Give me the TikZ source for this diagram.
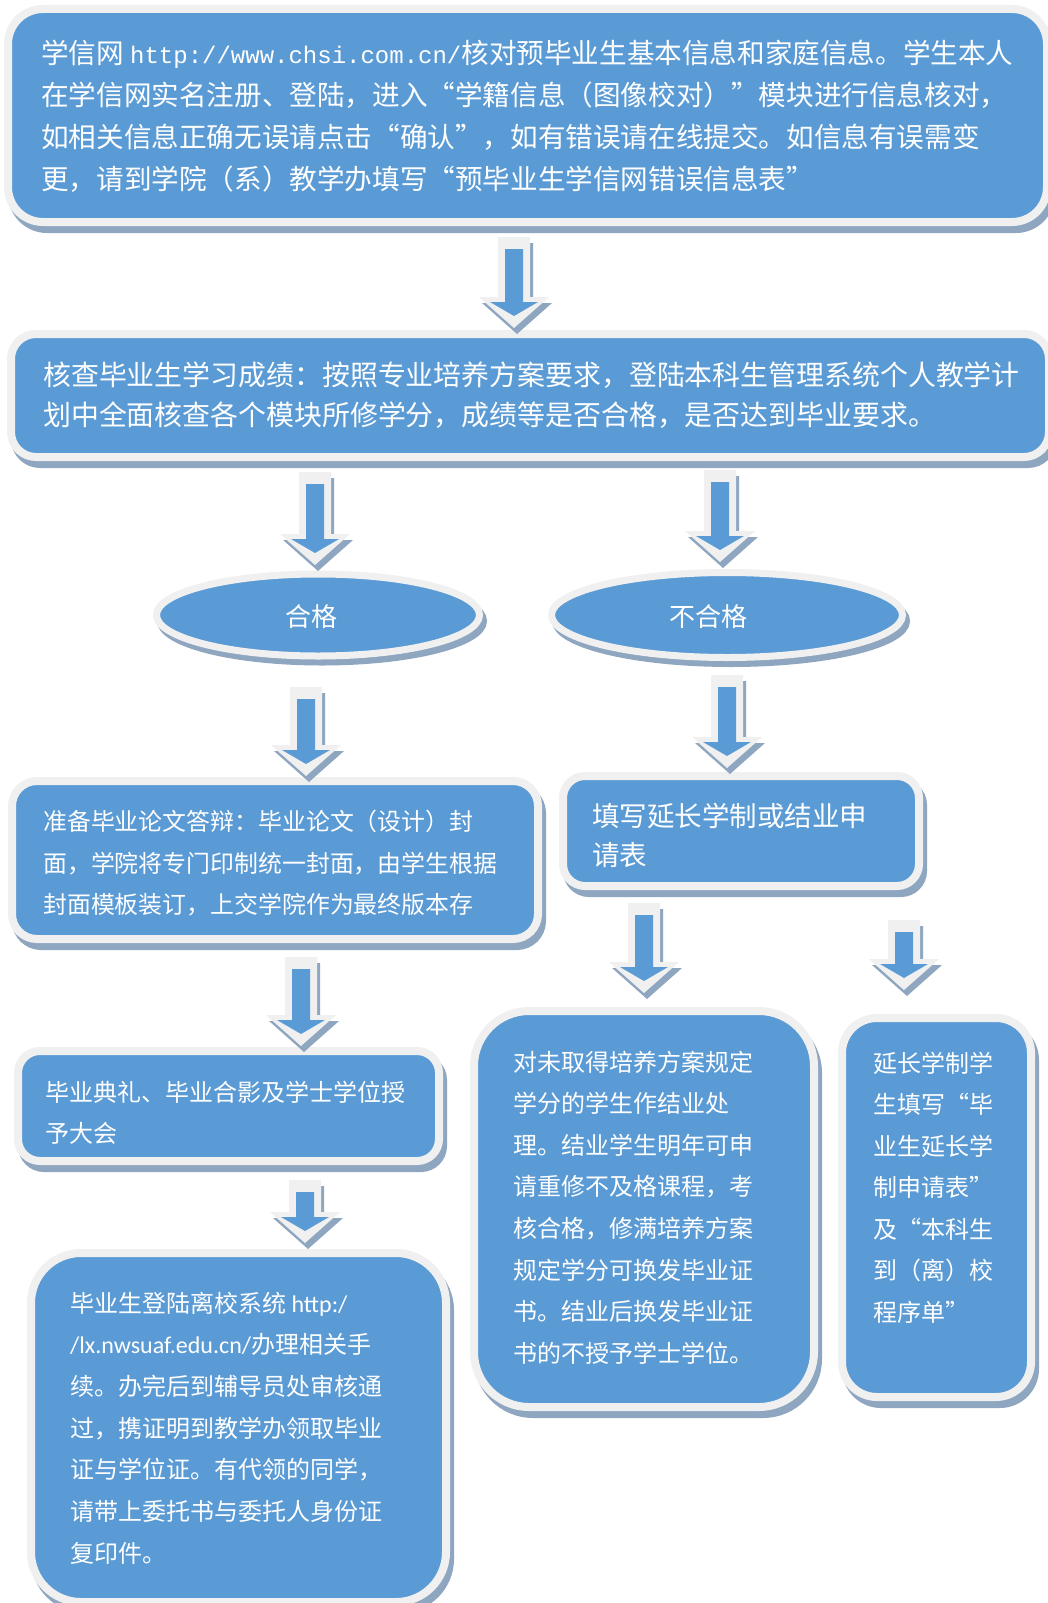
\documentclass[tikz,border=0pt]{standalone}
\usepackage{fontspec}
\setmainfont{Noto Sans CJK SC}
\newfontfamily\monofnt{Liberation Mono}
\newfontfamily\calfnt{Carlito}
\usetikzlibrary{shapes.geometric}
\definecolor{cardblue}{HTML}{5B9BD5}
\definecolor{cardrim}{HTML}{F0F0F0}
\definecolor{cardshade}{HTML}{8EA6BF}
\tikzset{
  card/.style={rectangle, draw=cardrim, line width=8pt, fill=cardblue, inner sep=0pt,
    preaction={draw=cardshade, fill=cardshade, transform canvas={shift={(4pt,-7pt)}}}},
  oval/.style={ellipse, draw=cardrim, line width=7pt, fill=cardblue, inner sep=0pt,
    preaction={draw=cardshade, fill=cardshade, transform canvas={shift={(4pt,-6pt)}}}},
  cardtext/.style={anchor=west, inner sep=0pt, align=left, text=white},
}
\newcommand\blockarrow[3]{%
  \fill[cardshade] ({#1-16+3},{#2+6}) -- ({#1+16+3},{#2+6}) -- ({#1+16+3},{#3-31+6}) -- ({#1+35+3},{#3-31+6}) -- ({#1+3},{#3+6}) -- ({#1-35+3},{#3-31+6}) -- ({#1-16+3},{#3-31+6}) -- cycle;
  \fill[cardrim] ({#1-16},{#2}) -- ({#1+16},{#2}) -- ({#1+16},{#3-31}) -- ({#1+35},{#3-31}) -- ({#1},{#3}) -- ({#1-35},{#3-31}) -- ({#1-16},{#3-31}) -- cycle;
  \fill[cardblue] ({#1-9},{#2+12}) -- ({#1+9},{#2+12}) -- ({#1+9},{#3-26}) -- ({#1+24},{#3-26}) -- ({#1},{#3-12}) -- ({#1-24},{#3-26}) -- ({#1-9},{#3-26}) -- cycle;
}
\begin{document}
\begin{tikzpicture}[x=1pt,y=-1pt]
\fill[white] (0,0) rectangle (1048,1603);
\useasboundingbox (0,0) rectangle (1048,1603);

% boxes
\node[card, minimum width=1039pt, minimum height=213pt, rounded corners=35pt] (b1) at (527.5,115.5) {};
\node[card, minimum width=1038pt, minimum height=123pt, rounded corners=25pt] (b2) at (530,395.5) {};
\node[oval, minimum width=323pt, minimum height=82pt] (e1) at (318,615) {};
\node[oval, minimum width=351pt, minimum height=85pt] (e2) at (727,615) {};
\node[card, minimum width=526pt, minimum height=158pt, rounded corners=25pt] (b3) at (275,860) {};
\node[card, minimum width=356pt, minimum height=110pt, rounded corners=22pt] (b4) at (741,831) {};
\node[card, minimum width=421pt, minimum height=110pt, rounded corners=22pt] (b5) at (228.5,1106) {};
\node[card, minimum width=415pt, minimum height=349pt, rounded corners=50pt] (b6) at (238.5,1427.5) {};
\node[card, minimum width=340pt, minimum height=396pt, rounded corners=55pt] (b7) at (644,1209) {};
\node[card, minimum width=189pt, minimum height=379pt, rounded corners=35pt] (b8) at (936.5,1207.5) {};

% texts
\node[cardtext, font=\fontsize{27.6}{42}\selectfont] (t1) at (41,116) {学信网 {\monofnt\fontsize{24}{42}\selectfont http://www.chsi.com.cn/}核对预毕业生基本信息和家庭信息。学生本人\\
在学信网实名注册、登陆，进入“学籍信息（图像校对）”模块进行信息核对，\\
如相关信息正确无误请点击“确认”，如有错误请在线提交。如信息有误需变\\
更，请到学院（系）教学办填写“预毕业生学信网错误信息表”};
\node[cardtext, font=\fontsize{27.9}{40}\selectfont] (t2) at (43,395) {核查毕业生学习成绩：按照专业培养方案要求，登陆本科生管理系统个人教学计\\
划中全面核查各个模块所修学分，成绩等是否合格，是否达到毕业要求。};
\node[text=white, inner sep=0pt, font=\fontsize{26}{30}\selectfont] (t9) at (311,617) {合格};
\node[text=white, inner sep=0pt, font=\fontsize{26}{30}\selectfont] (t10) at (708,617) {不合格};
\node[cardtext, font=\fontsize{23.9}{41.5}\selectfont] (t3) at (43,863.5) {准备毕业论文答辩：毕业论文（设计）封\\
面，学院将专门印制统一封面，由学生根据\\
封面模板装订，上交学院作为最终版本存};
\node[cardtext, font=\fontsize{27.5}{39}\selectfont] (t4) at (592,835.5) {填写延长学制或结业申\\
请表};
\node[cardtext, font=\fontsize{24}{41}\selectfont] (t5) at (45,1112.5) {毕业典礼、毕业合影及学士学位授\\
予大会};
\node[cardtext, font=\fontsize{24}{41.7}\selectfont] (t6) at (70,1428) {毕业生登陆离校系统 {\calfnt http:/}\\
{\calfnt /lx.nwsuaf.edu.cn/}办理相关手\\
续。办完后到辅导员处审核通\\
过，携证明到教学办领取毕业\\
证与学位证。有代领的同学，\\
请带上委托书与委托人身份证\\
复印件。};
\node[cardtext, font=\fontsize{24}{41.6}\selectfont] (t7) at (513,1207.5) {对未取得培养方案规定\\
学分的学生作结业处\\
理。结业学生明年可申\\
请重修不及格课程，考\\
核合格，修满培养方案\\
规定学分可换发毕业证\\
书。结业后换发毕业证\\
书的不授予学士学位。};
\node[cardtext, font=\fontsize{24}{41.5}\selectfont] (t8) at (873,1187.5) {延长学制学\\
生填写“毕\\
业生延长学\\
制申请表”\\
及“本科生\\
到（离）校\\
程序单”};

% block arrows
\blockarrow{514}{237}{328}
\blockarrow{315}{472}{565}
\blockarrow{720}{470}{562}
\blockarrow{306}{687}{776}
\blockarrow{727}{675}{768}
\blockarrow{301}{957}{1046}
\blockarrow{644}{903}{993}
\blockarrow{904}{920}{990}
\blockarrow{305}{1180}{1243}
\end{tikzpicture}
\end{document}
